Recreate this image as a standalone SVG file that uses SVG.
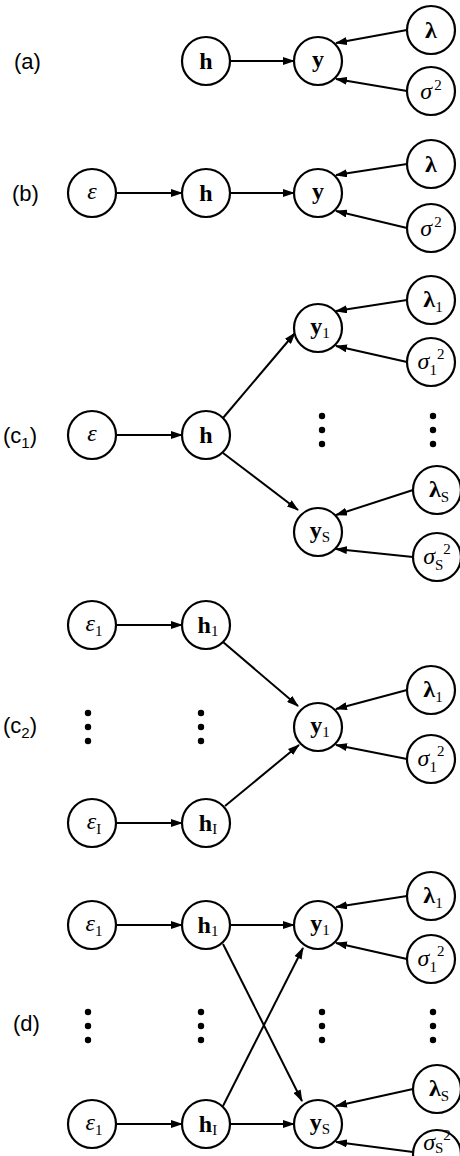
<svg xmlns="http://www.w3.org/2000/svg" width="460" height="1156" viewBox="0 0 460 1156">
<style>
.n{fill:#fff;stroke:#000;stroke-width:2.2}
.t{font-family:"Liberation Serif","DejaVu Serif",serif;font-size:24px;text-anchor:middle;fill:#000}
.b{font-weight:bold}
.i{font-style:italic}
.s{font-size:15px;font-weight:normal;font-style:normal}
.p{font-family:"Liberation Sans",Arial,sans-serif;font-size:22px;fill:#000}
.e{stroke:#000;stroke-width:2;fill:none;marker-end:url(#ah)}
.d{fill:#000}
</style>
<defs>
<marker id="ah" markerUnits="userSpaceOnUse" markerWidth="12" markerHeight="8" refX="11" refY="4" orient="auto">
<path d="M0,0 L12,4 L0,8 z" fill="#000"/>
</marker>
</defs>
<rect width="460" height="1156" fill="#fff"/>

<g id="connectors">
<line class="e" x1="230" y1="61" x2="294" y2="61"/>
<line class="e" x1="407" y1="30" x2="336" y2="43"/>
<line class="e" x1="407" y1="91" x2="336" y2="79"/>
<line class="e" x1="116" y1="193" x2="182" y2="193"/>
<line class="e" x1="230" y1="193" x2="294" y2="193"/>
<line class="e" x1="407" y1="164" x2="336" y2="175"/>
<line class="e" x1="407" y1="228" x2="336" y2="211"/>
<line class="e" x1="116" y1="435" x2="182" y2="435"/>
<line class="e" x1="223" y1="418" x2="295" y2="333"/>
<line class="e" x1="223" y1="453" x2="298" y2="510"/>
<line class="e" x1="407" y1="300" x2="336" y2="311"/>
<line class="e" x1="407" y1="362" x2="336" y2="346"/>
<line class="e" x1="413" y1="490" x2="336" y2="515"/>
<line class="e" x1="413" y1="557" x2="336" y2="549"/>
<line class="e" x1="116" y1="625" x2="182" y2="625"/>
<line class="e" x1="116" y1="823" x2="182" y2="823"/>
<line class="e" x1="223" y1="642" x2="298" y2="706"/>
<line class="e" x1="225" y1="806" x2="299" y2="745"/>
<line class="e" x1="407" y1="690" x2="336" y2="709"/>
<line class="e" x1="407" y1="759" x2="336" y2="745"/>
<line class="e" x1="116" y1="925" x2="182" y2="925"/>
<line class="e" x1="230" y1="925" x2="294" y2="925"/>
<line class="e" x1="223" y1="944" x2="302" y2="1101"/>
<line class="e" x1="223" y1="1106" x2="303" y2="948"/>
<line class="e" x1="116" y1="1124" x2="182" y2="1124"/>
<line class="e" x1="230" y1="1124" x2="294" y2="1124"/>
<line class="e" x1="407" y1="896" x2="336" y2="907"/>
<line class="e" x1="407" y1="959" x2="336" y2="943"/>
<line class="e" x1="413" y1="1089" x2="336" y2="1106"/>
<line class="e" x1="413" y1="1152" x2="336" y2="1142"/>
</g>

<g id="labels">
<text class="p" x="14" y="69">(a)</text>
<text class="p" x="12" y="201">(b)</text>
<text class="p" x="3" y="443">(c<tspan font-size="15" dy="5">1</tspan><tspan dy="-5">)</tspan></text>
<text class="p" x="3" y="733">(c<tspan font-size="15" dy="5">2</tspan><tspan dy="-5">)</tspan></text>
<text class="p" x="13" y="1031">(d)</text>
</g>

<g id="dots">
<circle class="d" cx="322" cy="416" r="3.2"/><circle class="d" cx="322" cy="430" r="3.2"/><circle class="d" cx="322" cy="444" r="3.2"/>
<circle class="d" cx="433" cy="416" r="3.2"/><circle class="d" cx="433" cy="430" r="3.2"/><circle class="d" cx="433" cy="444" r="3.2"/>
<circle class="d" cx="88" cy="713" r="3.2"/><circle class="d" cx="88" cy="727" r="3.2"/><circle class="d" cx="88" cy="741" r="3.2"/>
<circle class="d" cx="201" cy="713" r="3.2"/><circle class="d" cx="201" cy="727" r="3.2"/><circle class="d" cx="201" cy="741" r="3.2"/>
<circle class="d" cx="88" cy="1012" r="3.2"/><circle class="d" cx="88" cy="1026" r="3.2"/><circle class="d" cx="88" cy="1040" r="3.2"/>
<circle class="d" cx="201" cy="1012" r="3.2"/><circle class="d" cx="201" cy="1026" r="3.2"/><circle class="d" cx="201" cy="1040" r="3.2"/>
<circle class="d" cx="322" cy="1012" r="3.2"/><circle class="d" cx="322" cy="1026" r="3.2"/><circle class="d" cx="322" cy="1040" r="3.2"/>
<circle class="d" cx="433" cy="1012" r="3.2"/><circle class="d" cx="433" cy="1026" r="3.2"/><circle class="d" cx="433" cy="1040" r="3.2"/>
</g>

<g id="a_h"><circle class="n" cx="206" cy="61" r="24"/><text class="t b" x="206" y="69">h</text></g>
<g id="a_y"><circle class="n" cx="318" cy="61" r="24"/><text class="t b" x="318" y="67">y</text></g>
<g id="a_lam"><circle class="n" cx="431" cy="30" r="24"/><text class="t b" x="431" y="38">λ</text></g>
<g id="a_sig"><circle class="n" cx="431" cy="91" r="24"/><text class="t" x="431" y="99"><tspan class="i">σ</tspan><tspan class="s" dx="2" dy="-9">2</tspan></text></g>

<g id="b_eps"><circle class="n" cx="92" cy="193" r="24"/><text class="t i" x="92" y="199">ε</text></g>
<g id="b_h"><circle class="n" cx="206" cy="193" r="24"/><text class="t b" x="206" y="201">h</text></g>
<g id="b_y"><circle class="n" cx="318" cy="193" r="24"/><text class="t b" x="318" y="199">y</text></g>
<g id="b_lam"><circle class="n" cx="431" cy="164" r="24"/><text class="t b" x="431" y="172">λ</text></g>
<g id="b_sig"><circle class="n" cx="431" cy="228" r="24"/><text class="t" x="431" y="236"><tspan class="i">σ</tspan><tspan class="s" dx="2" dy="-9">2</tspan></text></g>

<g id="c1_eps"><circle class="n" cx="92" cy="435" r="24"/><text class="t i" x="92" y="441">ε</text></g>
<g id="c1_h"><circle class="n" cx="206" cy="435" r="24"/><text class="t b" x="206" y="443">h</text></g>
<g id="c1_y1"><circle class="n" cx="318" cy="328" r="24"/><text class="t" x="320" y="334"><tspan class="b">y</tspan><tspan class="s" dy="4">1</tspan></text></g>
<g id="c1_lam1"><circle class="n" cx="431" cy="300" r="24"/><text class="t" x="433" y="307"><tspan class="b">λ</tspan><tspan class="s" dy="5">1</tspan></text></g>
<g id="c1_sig1"><circle class="n" cx="431" cy="362" r="24"/><text class="t" x="431" y="369"><tspan class="i">σ</tspan><tspan class="s" dy="6">1</tspan><tspan class="s" dy="-16">2</tspan></text></g>
<g id="c1_yS"><circle class="n" cx="318" cy="532" r="24"/><text class="t" x="320" y="538"><tspan class="b">y</tspan><tspan class="s" dy="4">S</tspan></text></g>
<g id="c1_lamS"><circle class="n" cx="437" cy="490" r="24"/><text class="t" x="439" y="497"><tspan class="b">λ</tspan><tspan class="s" dy="5">S</tspan></text></g>
<g id="c1_sigS"><circle class="n" cx="437" cy="557" r="24"/><text class="t" x="437" y="564"><tspan class="i">σ</tspan><tspan class="s" dy="6">S</tspan><tspan class="s" dy="-16">2</tspan></text></g>

<g id="c2_eps1"><circle class="n" cx="92" cy="625" r="24"/><text class="t" x="94" y="631"><tspan class="i">ε</tspan><tspan class="s" dy="5">1</tspan></text></g>
<g id="c2_h1"><circle class="n" cx="206" cy="625" r="24"/><text class="t" x="208" y="633"><tspan class="b">h</tspan><tspan class="s" dy="3">1</tspan></text></g>
<g id="c2_epsI"><circle class="n" cx="92" cy="823" r="24"/><text class="t" x="94" y="829"><tspan class="i">ε</tspan><tspan class="s" dy="5">I</tspan></text></g>
<g id="c2_hI"><circle class="n" cx="206" cy="823" r="24"/><text class="t" x="208" y="831"><tspan class="b">h</tspan><tspan class="s" dy="3">I</tspan></text></g>
<g id="c2_y1"><circle class="n" cx="318" cy="727" r="24"/><text class="t" x="320" y="733"><tspan class="b">y</tspan><tspan class="s" dy="4">1</tspan></text></g>
<g id="c2_lam1"><circle class="n" cx="431" cy="690" r="24"/><text class="t" x="433" y="697"><tspan class="b">λ</tspan><tspan class="s" dy="5">1</tspan></text></g>
<g id="c2_sig1"><circle class="n" cx="431" cy="759" r="24"/><text class="t" x="431" y="766"><tspan class="i">σ</tspan><tspan class="s" dy="6">1</tspan><tspan class="s" dy="-16">2</tspan></text></g>

<g id="d_eps1"><circle class="n" cx="92" cy="925" r="24"/><text class="t" x="94" y="931"><tspan class="i">ε</tspan><tspan class="s" dy="5">1</tspan></text></g>
<g id="d_h1"><circle class="n" cx="206" cy="925" r="24"/><text class="t" x="208" y="933"><tspan class="b">h</tspan><tspan class="s" dy="3">1</tspan></text></g>
<g id="d_y1"><circle class="n" cx="318" cy="925" r="24"/><text class="t" x="320" y="931"><tspan class="b">y</tspan><tspan class="s" dy="4">1</tspan></text></g>
<g id="d_lam1"><circle class="n" cx="431" cy="896" r="24"/><text class="t" x="433" y="903"><tspan class="b">λ</tspan><tspan class="s" dy="5">1</tspan></text></g>
<g id="d_sig1"><circle class="n" cx="431" cy="959" r="24"/><text class="t" x="431" y="966"><tspan class="i">σ</tspan><tspan class="s" dy="6">1</tspan><tspan class="s" dy="-16">2</tspan></text></g>
<g id="d_epsI"><circle class="n" cx="92" cy="1124" r="24"/><text class="t" x="94" y="1130"><tspan class="i">ε</tspan><tspan class="s" dy="5">1</tspan></text></g>
<g id="d_hI"><circle class="n" cx="206" cy="1124" r="24"/><text class="t" x="208" y="1132"><tspan class="b">h</tspan><tspan class="s" dy="3">I</tspan></text></g>
<g id="d_yS"><circle class="n" cx="318" cy="1124" r="24"/><text class="t" x="320" y="1130"><tspan class="b">y</tspan><tspan class="s" dy="4">S</tspan></text></g>
<g id="d_lamS"><circle class="n" cx="437" cy="1089" r="24"/><text class="t" x="439" y="1096"><tspan class="b">λ</tspan><tspan class="s" dy="5">S</tspan></text></g>
<g id="d_sigS"><circle class="n" cx="437" cy="1154" r="24"/><text class="t" x="437" y="1150"><tspan class="i">σ</tspan><tspan class="s" dy="3">S</tspan><tspan class="s" dy="-13">2</tspan></text></g>
</svg>
